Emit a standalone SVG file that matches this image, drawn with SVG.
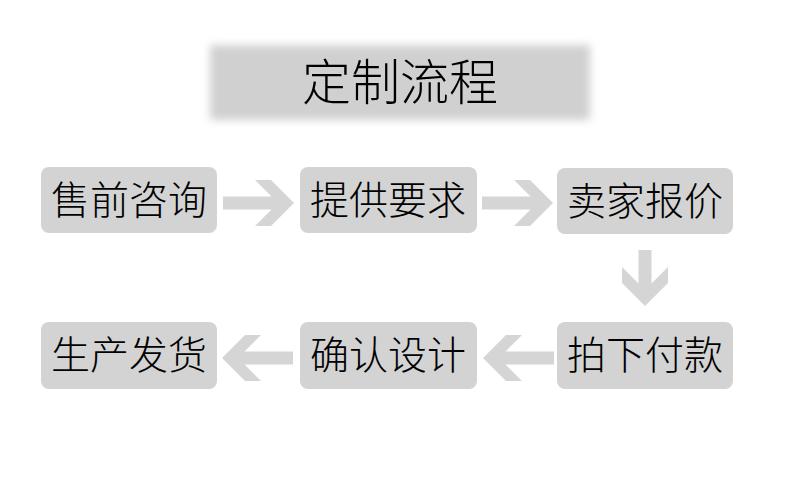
<svg xmlns="http://www.w3.org/2000/svg" width="800" height="500" viewBox="0 0 800 500">
<style>
.box{fill:#d3d3d3}
.lbl{font-family:"Noto Sans CJK SC","Noto Sans CJK JP",sans-serif;font-size:39px;font-weight:300;fill:#000;text-anchor:middle}
.arr{fill:#d5d5d5}
</style>
<defs>
<filter id="blur" x="-10%" y="-30%" width="120%" height="160%"><feGaussianBlur stdDeviation="4.5"/></filter>
<path id="ar" d="M-70,-6.5 H-13 V6.5 H-70 Z M-38,-23 H-22 L1,0 L-22,23 H-38 L-15,0 Z"/>
</defs>
<rect width="800" height="500" fill="#fff"/>
<g id="title">
<rect x="210" y="45" width="380" height="75" fill="#d0d0d0" filter="url(#blur)"/>
<text x="400" y="100" class="lbl" style="font-size:49px">定制流程</text>
</g>
<g id="n1"><rect class="box" x="41" y="167" width="176" height="66" rx="8"/><text class="lbl" x="129" y="214">售前咨询</text></g>
<g id="n2"><rect class="box" x="300" y="167" width="177" height="66" rx="8"/><text class="lbl" x="388" y="214">提供要求</text></g>
<g id="n3"><rect class="box" x="557" y="168" width="176" height="66" rx="8"/><text class="lbl" x="645" y="215">卖家报价</text></g>
<g id="n4"><rect class="box" x="41" y="322" width="176" height="67" rx="8"/><text class="lbl" x="129" y="369">生产发货</text></g>
<g id="n5"><rect class="box" x="300" y="322" width="177" height="67" rx="8"/><text class="lbl" x="388" y="369">确认设计</text></g>
<g id="n6"><rect class="box" x="557" y="322" width="176" height="67" rx="8"/><text class="lbl" x="645" y="369">拍下付款</text></g>
<g id="connectors" class="arr">
<use href="#ar" transform="translate(293,203)"/>
<use href="#ar" transform="translate(552,203)"/>
<path d="M638.5,250 H651.5 V296 H638.5 Z M622,283 V267 L645,290 L668,267 V283 L645,306 Z"/>
<use href="#ar" transform="translate(484,358) rotate(180)"/>
<use href="#ar" transform="translate(223,358) rotate(180)"/>
</g>
</svg>
